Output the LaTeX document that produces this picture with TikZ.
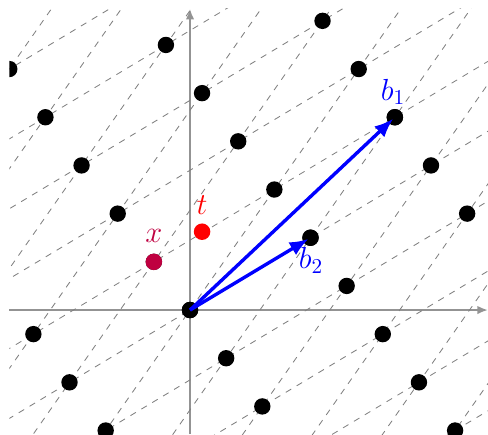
\documentclass[tikz,border=0pt]{standalone}
\usetikzlibrary{arrows.meta}
\begin{document}
\begin{tikzpicture}[x=2cm,y=2cm,
  axisline/.style={gray!85,line width=0.9pt,-{Latex[length=5pt,width=4pt]}},
  gridline/.style={gray,dashed,line width=0.4pt},
  latdot/.style={circle,fill=black,inner sep=0pt,minimum size=7.8pt},
  tdot/.style={circle,fill=red,inner sep=0pt,minimum size=7.8pt},
  xdot/.style={circle,fill=purple,inner sep=0pt,minimum size=7.8pt},
  vec/.style={blue,line width=1.6pt,-{Latex[length=9pt,width=7pt]},shorten >=1pt},
  lab/.style={font=\Large,inner sep=0pt}]
\useasboundingbox (-1.577,-1.029) rectangle (2.473,2.573);
% axes
\coordinate (xl) at (-1.5,0);
\coordinate (xr) at (2.473,0);
\coordinate (yb) at (0,-1.029);
\coordinate (yt) at (0,2.5);
\draw[axisline] (xl) -- (xr);
\draw[axisline] (yb) -- (yt);
% lattice grid lines (basis b2 and b1-b2)
\begin{scope}
  \clip (-1.5,-1.029) rectangle (2.5,2.5);
  \foreach \m in {-10,...,10}
    \draw[gridline] ({\m-0.7*12},{0.6*\m-12}) -- ({\m+0.7*12},{0.6*\m+12});
  \foreach \n in {-10,...,10}
    \draw[gridline] ({0.7*\n-12},{\n-0.6*12}) -- ({0.7*\n+12},{\n+0.6*12});
\end{scope}
% lattice points
\begin{scope}
  \clip (-1.5,-1.029) rectangle (2.473,2.5);
  \foreach \m in {-7,...,7}
    \foreach \n in {-7,...,7}
      \fill ({\m+0.7*\n},{0.6*\m+\n}) circle (0.068);
\end{scope}
\node[latdot] (o) at (0,0) {};
\node[latdot] (b1) at (1.7,1.6) {};
\node[latdot] (b2) at (1,0.6) {};
\node[xdot] (x) at (-0.3,0.4) {};
\node[tdot] (t) at (0.1,0.65) {};
% basis vectors
\draw[vec] (o.center) -- (b1.center);
\draw[vec] (o.center) -- (b2.center);
% labels
\node[lab,text=blue] (b1l) at (1.685,1.81) {$b_1$};
\node[lab,text=blue] (b2l) at (1.004,0.41) {$b_2$};
\node[lab,text=red] (tl) at (0.1,0.871) {$t$};
\node[lab,text=purple] (xl2) at (-0.3,0.618) {$x$};
\end{tikzpicture}
\end{document}
